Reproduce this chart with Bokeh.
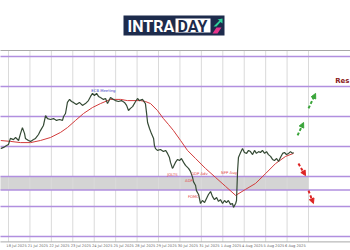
from bokeh.plotting import figure
from bokeh.models import Range1d, Arrow, NormalHead
from bokeh.core.properties import value
from bokeh.embed import file_html
from bokeh.resources import INLINE

# ---- data (x = trading day index, y = price) ----
price_x = [-0.37,-0.23,-0.09,0,0.09,0.23,0.33,0.47,0.56,0.65,0.75,0.79,0.93,1.03,1.17,1.26,1.40,1.49,1.63,1.73,1.82,1.96,2.10,2.24,2.38,2.52,2.57,2.66,2.75,2.85,2.94,3.03,3.17,3.31,3.45,3.59,3.73,3.83,3.92,4.01,4.11,4.20,4.29,4.43,4.53,4.62,4.67,4.76,4.90,4.99,5.13,5.27,5.41,5.51,5.60,5.69,5.79,5.93,6.02,6.11,6.25,6.39,6.44,6.49,6.58,6.67,6.77,6.81,6.86,6.95,7.09,7.23,7.33,7.42,7.51,7.56,7.65,7.70,7.79,7.89,7.98,8.07,8.17,8.26,8.40,8.49,8.59,8.63,8.73,8.77,8.87,8.96,9.05,9.15,9.24,9.33,9.43,9.52,9.61,9.71,9.80,9.89,9.99,10.08,10.17,10.26,10.36,10.45,10.50,10.60,10.64,10.69,10.73,10.83,10.92,11.01,11.11,11.20,11.29,11.39,11.48,11.57,11.67,11.76,11.85,11.95,12.04,12.13,12.23,12.32,12.41,12.51,12.60,12.69,12.79,12.88,12.97,13.07,13.16,13.25,13.30]
price_y = [1.1593,1.1597,1.1603,1.1607,1.1627,1.1623,1.1630,1.1620,1.1643,1.1663,1.1643,1.1627,1.1620,1.1617,1.1623,1.1627,1.1640,1.1653,1.1670,1.1703,1.1693,1.1690,1.1693,1.1687,1.1690,1.1687,1.1700,1.1710,1.1747,1.1757,1.1750,1.1747,1.1740,1.1747,1.1737,1.1743,1.1753,1.1767,1.1777,1.1770,1.1777,1.1767,1.1763,1.1757,1.1760,1.1743,1.1750,1.1763,1.1757,1.1753,1.1750,1.1753,1.1747,1.1737,1.1720,1.1727,1.1733,1.1750,1.1760,1.1753,1.1757,1.1743,1.1713,1.1680,1.1660,1.1643,1.1627,1.1603,1.1593,1.1587,1.1590,1.1583,1.1587,1.1577,1.1563,1.1547,1.1527,1.1533,1.1547,1.1557,1.1553,1.1560,1.1547,1.1537,1.1527,1.1517,1.1497,1.1483,1.1470,1.1453,1.1440,1.1410,1.1420,1.1413,1.1427,1.1440,1.1450,1.1433,1.1423,1.1430,1.1417,1.1423,1.1410,1.1420,1.1413,1.1420,1.1407,1.1410,1.1397,1.1410,1.1420,1.1520,1.1563,1.1580,1.1593,1.1580,1.1577,1.1587,1.1583,1.1573,1.1587,1.1577,1.1583,1.1580,1.1587,1.1577,1.1583,1.1573,1.1567,1.1557,1.1553,1.1560,1.1550,1.1563,1.1577,1.1580,1.1573,1.1577,1.1583,1.1577,1.1580]

ma_x = [-0.37,0.09,0.56,1.03,1.49,1.96,2.43,2.75,3.13,3.50,3.92,4.29,4.76,5.23,5.55,6.16,6.39,6.63,6.95,7.23,7.47,7.70,8.03,8.35,8.73,9.19,9.66,10.13,10.60,11.06,11.53,12.00,12.46,12.93,13.30]
ma_y = [1.1620,1.1617,1.1613,1.1613,1.1620,1.1630,1.1647,1.1663,1.1687,1.1710,1.1730,1.1743,1.1757,1.1757,1.1753,1.1753,1.1750,1.1743,1.1720,1.1693,1.1673,1.1653,1.1620,1.1587,1.1560,1.1527,1.1497,1.1467,1.1437,1.1457,1.1477,1.1510,1.1543,1.1567,1.1577]

levels = [1.19, 1.18, 1.17, 1.16, 1.15, 1.1455, 1.14, 1.13]
band_low, band_high, band_end = 1.1455, 1.15, 14
chart_top, chart_bottom = 1.192, 1.1282

grid_days = list(range(-1, 15))
label_days = list(range(0, 14))
date_labels = ["18 Jul 2025","21 Jul 2025","22 Jul 2025","23 Jul 2025",
               "24 Jul 2025","25 Jul 2025","28 Jul 2025","29 Jul 2025","30 Jul 2025",
               "31 Jul 2025","1 Aug 2025","4 Aug 2025","5 Aug 2025","6 Aug 2025"]

event_names = ["JOLTS", "GDP Adv", "ADP", "NFP Aug", "FOMC"]
event_x = [7.65, 8.91, 8.42, 10.29, 8.63]
event_y = [1.1507, 1.1510, 1.1488, 1.1513, 1.1432]

up_x0 = [13.49, 14.0]; up_y0 = [1.1637, 1.1727]
up_x1 = [13.77, 14.33]; up_y1 = [1.1680, 1.1777]
dn_x0 = [13.53, 14.0]; dn_y0 = [1.1543, 1.1453]
dn_x1 = [13.86, 14.23]; dn_y1 = [1.1503, 1.1410]

# ---- pixel helpers for layout only ----
PXD = 21.43
def X(px): return (px - 8) / PXD
def Y(py): return 1.18 - (py - 86) / 3000.0

p = figure(width=350, height=250, output_backend="svg", toolbar_location=None,
           x_range=Range1d(X(0), X(350)), y_range=Range1d(Y(250), Y(0)),
           x_axis_location=None, y_axis_location=None, min_border=0)
p.grid.visible = False
p.outline_line_color = None
p.background_fill_color = "white"
p.border_fill_color = "white"

# band
p.quad(left=[X(-5)], right=[band_end], bottom=[band_low], top=[band_high],
       fill_color="#d4d4d4", line_color=None)

# vertical grid
p.segment(x0=grid_days, x1=grid_days, y0=[chart_bottom]*len(grid_days), y1=[chart_top]*len(grid_days),
          line_color="#dadada", line_width=1)

# chart borders
p.segment(x0=[X(-5)]*2, x1=[X(360)]*2, y0=[chart_top, chart_bottom], y1=[chart_top, chart_bottom],
          line_color="#a8a8a8", line_width=1)

# levels
p.segment(x0=[X(-5)]*len(levels), x1=[X(360)]*len(levels), y0=levels, y1=levels,
          line_color="#b18fdf", line_width=1.3)

# MA and price
p.line(ma_x, ma_y, line_color="#d23b3b", line_width=1)
p.line(price_x, price_y, line_color="#354a35", line_width=1.2)

# date labels
p.text(x=[d - 0.1 for d in label_days], y=[Y(245.5)]*len(date_labels), text=date_labels,
       text_font=value("DejaVu Sans"), text_font_size="3.6px", text_color="#666666",
       text_align="left", text_baseline="middle")

# event labels
p.text(x=event_x, y=event_y, text=event_names, text_font=value("DejaVu Sans"),
       text_font_size="3.8px", text_color="#e04848", text_align="center", text_baseline="middle")
p.text(x=[4.43], y=[1.1788], text=["ECB Meeting"], text_font=value("DejaVu Sans"),
       text_font_size="3.8px", text_color="#3b3bc8", text_align="center", text_baseline="middle")
p.text(x=[X(349)], y=[Y(80.5)], text=["Res"], text_font=value("DejaVu Sans"),
       text_font_size="7px", text_font_style="bold", text_color="#8b1a1a",
       text_align="right", text_baseline="middle")

# arrows
for xs0, ys0, xs1, ys1, col in [(up_x0, up_y0, up_x1, up_y1, "#3aa53a"),
                                (dn_x0, dn_y0, dn_x1, dn_y1, "#dd2424")]:
    for a, b, c, d in zip(xs0, ys0, xs1, ys1):
        p.add_layout(Arrow(x_start=a, y_start=b, x_end=c, y_end=d,
                           line_color=col, line_width=2, line_dash="3 2",
                           end=NormalHead(size=5, fill_color=col, line_color=col)))

# logo
p.quad(left=[X(123)], right=[X(224)], top=[Y(15)], bottom=[Y(35)], fill_color="#1d2b4c", line_color=None)
p.quad(left=[X(175)], right=[X(210)], top=[Y(18)], bottom=[Y(32)], fill_color="white", line_color=None)
p.text(x=[X(127)], y=[Y(25.5)], text=["INTRA"], text_font=value("Roboto"), text_font_style="bold",
       text_font_size="16px", text_color="white", text_align="left", text_baseline="middle")
p.text(x=[X(177)], y=[Y(25.5)], text=["DAY"], text_font=value("Roboto"), text_font_style="bold",
       text_font_size="16px", text_color="#1d2b4c", text_align="left", text_baseline="middle")
p.patch([X(213), X(219), X(217), X(222), X(222), X(220), X(216)],
        [Y(26), Y(20), Y(19), Y(18), Y(23), Y(21.5), Y(26)], fill_color="#2fd39a", line_color=None)
p.patch([X(212), X(216), X(221), X(217)],
        [Y(33), Y(27), Y(27), Y(33)], fill_color="#e8358c", line_color=None)

open("out.html", "w").write(file_html(p, INLINE))
